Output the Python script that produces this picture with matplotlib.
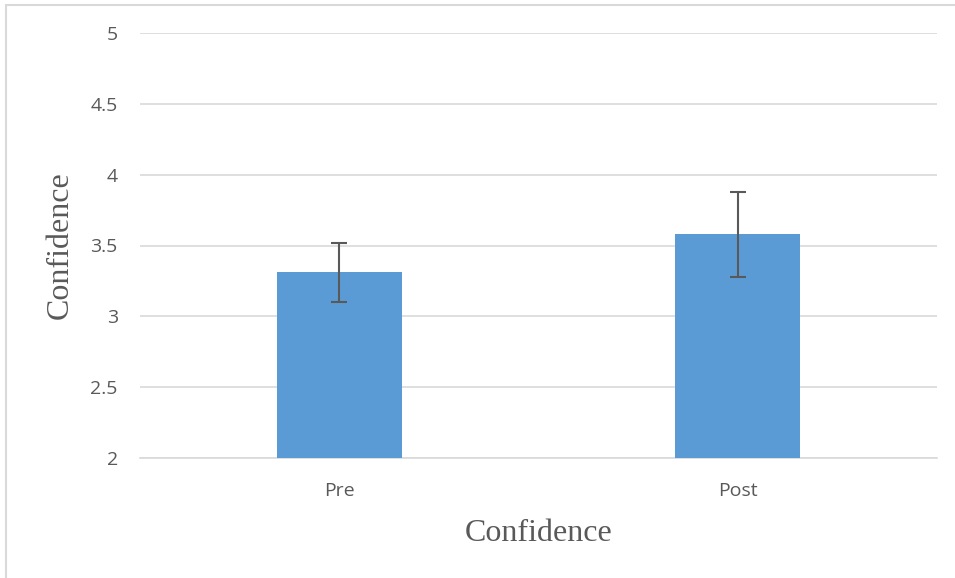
import matplotlib
matplotlib.use("Agg")
import matplotlib.pyplot as plt
from matplotlib.patches import Rectangle

# data
categories = ["Pre", "Post"]
means = [3.31, 3.58]
errors = [0.21, 0.30]
y_ticks = [2, 2.5, 3, 3.5, 4, 4.5, 5]
y_tick_labels = ["2", "2.5", "3", "3.5", "4", "4.5", "5"]

W, H = 955, 578
fig = plt.figure(figsize=(W / 100, H / 100), dpi=100)
fig.patch.set_facecolor("white")

# plot area in pixels: x 140..937, y 33..458
left, right, top, bottom = 140, 937, 33, 458
ax = fig.add_axes([left / W, 1 - bottom / H, (right - left) / W, (bottom - top) / H])

x = list(range(len(categories)))
ax.bar(x, [m - 2 for m in means], bottom=2, width=0.313, color="#5B9BD5", zorder=3)
ax.errorbar(x, means, yerr=errors, fmt="none", ecolor="#595959",
            elinewidth=1.5, capsize=5.5, capthick=1.5, zorder=4)

ax.set_xlim(-0.5, len(categories) - 0.5)
ax.set_ylim(2, 5)
ax.set_yticks(y_ticks)
ax.set_yticklabels(y_tick_labels)
ax.set_xticks(x)
ax.set_xticklabels(categories)

for s in ["top", "right", "left"]:
    ax.spines[s].set_visible(False)
ax.spines["bottom"].set_color("#D9D9D9")
ax.spines["bottom"].set_linewidth(1.2)
ax.grid(axis="y", color="#D9D9D9", linewidth=1.2, zorder=0)
ax.tick_params(axis="both", length=0, colors="#595959", labelsize=14)
ax.tick_params(axis="y", pad=16)
ax.tick_params(axis="x", pad=17)
for lab in ax.get_xticklabels() + ax.get_yticklabels():
    lab.set_family(["Open Sans", "DejaVu Sans"])

ax.set_xlabel("Confidence", family="Liberation Serif", fontsize=23,
              color="#595959", labelpad=14)
ax.set_ylabel("Confidence", family="Liberation Serif", fontsize=23,
              color="#595959", labelpad=11)

# chart-area border (only top and left edges fall inside the image)
fig.patches.append(Rectangle((5.5 / W, -0.1), 1.2, 1 - 5.5 / H + 0.1,
                             transform=fig.transFigure, fill=False,
                             edgecolor="#D9D9D9", linewidth=1.5))

fig.savefig("out.png", dpi=100, facecolor="white")
